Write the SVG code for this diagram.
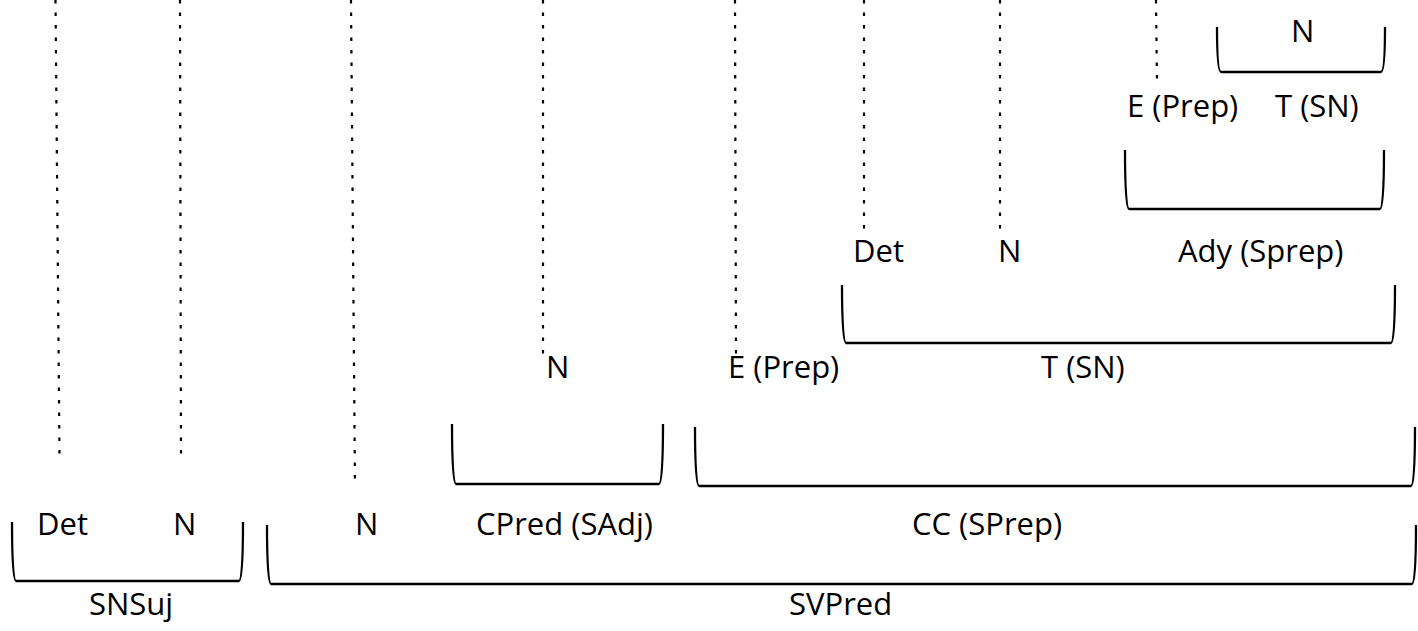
<svg xmlns="http://www.w3.org/2000/svg" width="1418" height="631" viewBox="0 0 1418 631">
<style>
.t{font-family:"Open Sans","Liberation Sans",sans-serif;font-size:31px;fill:#000}
.d{stroke:#000;stroke-width:2.2;stroke-dasharray:3.5 9;fill:none}
.b{stroke:#000;stroke-width:2.3;fill:none;stroke-linejoin:round}
</style>
<rect width="1418" height="631" fill="#fff"/>
<g id="connectors">
<line class="d" x1="55.5" y1="0" x2="59.5" y2="455"/>
<line class="d" x1="180" y1="0" x2="181" y2="455"/>
<line class="d" x1="351" y1="0" x2="355" y2="487"/>
<line class="d" x1="543" y1="0" x2="543" y2="362"/>
<line class="d" x1="735" y1="0" x2="736" y2="362"/>
<line class="d" x1="864" y1="0" x2="864" y2="233"/>
<line class="d" x1="1000" y1="0" x2="1000" y2="233"/>
<line class="d" x1="1156" y1="0" x2="1157" y2="82"/>
</g>
<g id="brackets">
<path id="br-snsuj" class="b" d="M12,522 Q12,581 16,581 L239,581 Q243,581 243,522"/>
<path id="br-svpred" class="b" d="M267,525 Q267,584 271,584 L1412,584 Q1416,584 1416,525"/>
<path id="br-cpred" class="b" d="M452,424 Q452,484 456,484 L659,484 Q663,484 663,424"/>
<path id="br-cc" class="b" d="M695,427 Q695,486 699,486 L1411,486 Q1415,486 1415,427"/>
<path id="br-tsn" class="b" d="M842,285 Q842,343 846,343 L1391,343 Q1395,343 1395,285"/>
<path id="br-ady" class="b" d="M1125,150 Q1125,209 1129,209 L1380,209 Q1384,209 1384,150"/>
<path id="br-n" class="b" d="M1217,27 Q1217,72 1221,72 L1381,72 Q1385,72 1385,27"/>
</g>
<g id="n-det1"><text class="t" x="37" y="535">Det</text></g>
<g id="n-n1"><text class="t" x="173" y="535">N</text></g>
<g id="n-snsuj"><text class="t" x="89" y="615">SNSuj</text></g>
<g id="n-n2"><text class="t" x="355" y="535">N</text></g>
<g id="n-cpred"><text class="t" x="476" y="535">CPred (SAdj)</text></g>
<g id="n-cc"><text class="t" x="912" y="535">CC (SPrep)</text></g>
<g id="n-svpred"><text class="t" x="789" y="615">SVPred</text></g>
<g id="n-n3"><text class="t" x="546" y="378">N</text></g>
<g id="n-eprep1"><text class="t" x="728" y="378">E (Prep)</text></g>
<g id="n-tsn1"><text class="t" x="1041" y="378">T (SN)</text></g>
<g id="n-det2"><text class="t" x="853" y="262">Det</text></g>
<g id="n-n4"><text class="t" x="998" y="262">N</text></g>
<g id="n-ady"><text class="t" x="1178" y="262">Ady (Sprep)</text></g>
<g id="n-eprep2"><text class="t" x="1127" y="117">E (Prep)</text></g>
<g id="n-tsn2"><text class="t" x="1275" y="117">T (SN)</text></g>
<g id="n-n5"><text class="t" x="1291" y="42">N</text></g>
</svg>
